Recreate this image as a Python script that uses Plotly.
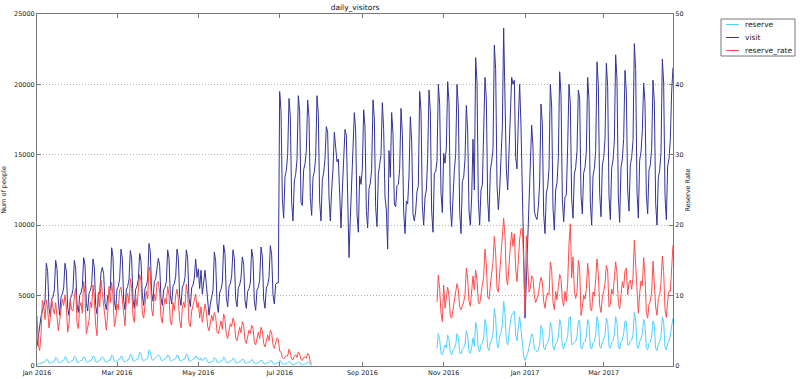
import pandas as pd
import plotly.graph_objects as go
from plotly.subplots import make_subplots

# daily visitors, rows of 7 days starting Fri 2016-01-01
visit_weeks = [
    [1400, 2200, 2900, 3500, 3900, 4200, 4600],
    [7300, 6700, 4100, 3500, 4750, 4900, 5400],
    [7500, 6900, 4600, 3600, 4900, 5100, 5550],
    [7300, 6750, 4150, 3600, 4800, 5000, 5450],
    [7500, 6950, 4350, 3800, 5000, 5200, 5650],
    [7700, 7150, 4450, 3900, 5150, 5350, 5800],
    [7600, 7000, 4300, 3700, 5000, 5200, 6600],
    [7000, 6550, 4450, 4000, 5000, 5150, 5500],
    [8400, 7750, 4650, 4000, 5450, 5650, 6200],
    [8300, 7650, 4650, 4000, 5400, 5650, 6150],
    [8200, 7600, 4700, 4100, 5450, 5650, 6150],
    [8000, 7450, 5000, 4300, 5500, 5700, 6150],
    [8700, 8100, 5200, 4600, 6000, 6200, 6900],
    [7650, 7150, 4800, 4300, 5400, 5600, 6000],
    [8250, 7650, 5000, 4400, 5650, 5850, 6350],
    [8300, 7700, 4900, 4300, 5600, 5800, 6300],
    [8250, 7650, 4800, 4200, 5550, 5750, 6250],
    [7600, 6300, 6900, 5500, 6800, 5100, 6000],
    [6800, 5800, 4300, 3600, 4400, 4800, 5400],
    [8100, 7450, 4450, 3800, 5200, 5450, 5950],
    [8600, 7950, 4850, 4200, 5650, 5850, 6400],
    [8250, 7650, 4800, 4200, 5550, 5750, 6250],
    [7750, 7200, 4650, 4100, 5300, 5500, 5900],
    [8300, 7650, 4600, 3950, 5400, 5600, 6100],
    [8450, 7800, 4750, 4100, 5550, 5750, 6300],
    [8550, 7900, 5050, 4400, 5800, 5900, 5900],
    [19500, 18150, 11850, 10500, 13450, 13900, 15000],
    [19000, 17700, 11600, 10300, 13150, 13600, 14650],
    [19200, 18050, 11600, 11400, 13950, 14350, 15300],
    [18900, 17650, 11950, 10700, 13400, 13800, 14800],
    [19200, 17850, 11650, 10300, 13250, 13700, 14750],
    [17000, 16600, 12000, 10300, 12500, 14000, 16600],
    [15500, 14500, 14700, 11500, 9800, 12500, 14500],
    [16800, 16400, 11500, 7700, 10500, 12900, 14500],
    [18000, 16700, 10800, 9500, 13500, 12900, 14000],
    [18200, 16950, 11050, 9800, 12600, 13000, 14000],
    [18900, 17550, 11250, 9900, 13600, 14300, 15000],
    [18700, 16800, 12000, 11100, 8300, 15300, 13400],
    [18000, 16500, 11500, 11300, 12800, 12900, 14000],
    [18300, 16500, 11000, 9400, 11700, 11500, 13500],
    [17700, 16000, 10800, 10300, 11000, 12400, 12800],
    [19500, 18100, 11400, 10000, 12000, 12500, 14750],
    [19600, 18100, 11000, 9500, 13700, 13800, 14550],
    [20000, 18600, 12300, 10900, 15100, 14400, 15500],
    [20200, 18700, 11400, 9900, 12000, 13900, 15000],
    [20000, 18400, 11000, 9400, 13100, 13400, 14700],
    [18500, 16700, 11000, 10000, 12000, 16100, 12500],
    [21900, 20100, 11800, 10000, 12500, 12850, 15900],
    [20500, 18950, 11800, 10250, 13900, 14500, 15400],
    [22800, 21050, 12850, 11100, 12500, 15100, 17000],
    [24000, 19000, 14000, 12500, 15500, 18500, 20500],
    [20000, 20300, 14800, 14000, 17500, 20000, 17000],
    [12500, 7000, 3400, 6000, 9000, 12000, 14500],
    [17100, 15500, 11000, 10600, 10400, 11300, 13000],
    [18600, 17200, 10800, 9400, 12300, 12700, 14000],
    [20000, 18400, 11200, 9650, 12500, 13000, 14800],
    [20900, 19300, 11850, 10250, 12000, 12150, 15600],
    [20000, 18600, 11900, 10500, 13600, 14100, 15300],
    [19600, 19000, 12100, 10800, 13700, 14100, 15200],
    [20500, 18900, 11600, 10000, 13500, 14000, 15300],
    [21600, 19950, 12250, 10600, 14250, 14800, 16100],
    [21500, 19850, 12050, 10400, 14050, 14600, 15950],
    [22100, 20300, 12000, 10200, 14100, 14700, 16150],
    [21000, 19500, 12500, 11000, 14300, 14800, 16000],
    [22900, 21050, 12350, 10500, 14600, 15200, 16700],
    [20100, 18700, 12200, 10800, 13900, 14300, 15450],
    [20300, 18750, 11550, 10000, 13400, 13900, 15150],
    [21800, 20100, 12100, 10400, 14200, 14700, 16100],
    [19500, 21200],
]

# reservations, 2016-01-01 .. 2016-07-25
reserve_h1_weeks = [
    [70, 150, 160, 200, 230, 250, 300],
    [480, 430, 220, 200, 260, 280, 330],
    [600, 540, 260, 220, 300, 320, 380],
    [650, 590, 270, 230, 310, 330, 400],
    [690, 620, 290, 250, 330, 350, 420],
    [650, 590, 300, 260, 340, 360, 420],
    [700, 630, 300, 260, 340, 360, 560],
    [620, 560, 310, 280, 350, 370, 430],
    [780, 700, 350, 300, 390, 410, 480],
    [700, 640, 340, 300, 380, 400, 470],
    [850, 770, 370, 320, 420, 450, 530],
    [970, 880, 420, 350, 450, 480, 560],
    [1140, 1030, 480, 400, 520, 560, 700],
    [800, 730, 430, 380, 460, 490, 560],
    [780, 710, 400, 350, 430, 460, 530],
    [780, 710, 380, 330, 410, 440, 520],
    [850, 770, 370, 320, 400, 430, 510],
    [720, 560, 600, 420, 560, 380, 450],
    [600, 480, 280, 220, 280, 310, 360],
    [600, 540, 270, 230, 300, 320, 380],
    [620, 560, 260, 220, 290, 310, 370],
    [550, 500, 240, 200, 260, 280, 340],
    [500, 450, 220, 180, 240, 260, 310],
    [450, 410, 190, 160, 210, 230, 280],
    [420, 380, 170, 140, 190, 210, 260],
    [400, 360, 160, 130, 180, 200, 240],
    [380, 340, 140, 110, 160, 170, 220],
    [330, 300, 120, 90, 130, 150, 190],
    [300, 270, 100, 80, 120, 130, 170],
    [280, 250, 80, 40],
]

# reservations, 2016-10-27 .. 2017-04-22
reserve_h2_weeks = [
    [1250],
    [2300, 1900, 900, 800, 1200, 1500, 1300],
    [2200, 1900, 950, 800, 1150, 1250, 1500],
    [2300, 2000, 1000, 850, 1200, 1300, 1550],
    [2500, 2150, 1050, 900, 1300, 2000, 1400],
    [3100, 2600, 1200, 1000, 1500, 1650, 2000],
    [3300, 2800, 1300, 1100, 1700, 1850, 2300],
    [4100, 3400, 1550, 1300, 2100, 2400, 2900],
    [4600, 3700, 1800, 1500, 2500, 3100, 3600],
    [3800, 3900, 2200, 1800, 2800, 3500, 2600],
    [1600, 700, 380, 600, 900, 1300, 1700],
    [2300, 2100, 1200, 1100, 1000, 1150, 1500],
    [2900, 2600, 1300, 1150, 1550, 1650, 1950],
    [3100, 2800, 1350, 1150, 1600, 1700, 2050],
    [3300, 2950, 1400, 1200, 1650, 1750, 2150],
    [3400, 3500, 1500, 1600, 1700, 1750, 2100],
    [3200, 3250, 1250, 1250, 1650, 1750, 2100],
    [3300, 2950, 1350, 1200, 1650, 1750, 2150],
    [3500, 3100, 1400, 1250, 1700, 1850, 2250],
    [3400, 3100, 1400, 1250, 1700, 1800, 2250],
    [3500, 3100, 1350, 1200, 1700, 1850, 2300],
    [3200, 3150, 1500, 1500, 1800, 1850, 2250],
    [3800, 3250, 1400, 1250, 1750, 1950, 2300],
    [3300, 2900, 1300, 1150, 1600, 1700, 2100],
    [3200, 2850, 1250, 1100, 1550, 1700, 2100],
    [3500, 3100, 1300, 1150, 1600, 1750, 2200],
    [3000, 3400],
]

# reserve rate (%), same two periods
rate_h1_weeks = [
    [7.1, 3.0, 2.2, 4.5, 9.3, 8.7, 6.6],
    [9.4, 8.0, 5.4, 6.9, 9.6, 8.2, 7.4],
    [9.0, 7.2, 5.0, 6.5, 8.1, 9.5, 8.6],
    [10.1, 8.4, 4.8, 6.0, 9.2, 8.0, 7.8],
    [9.8, 11.0, 6.1, 5.3, 8.4, 9.0, 7.5],
    [12.0, 10.2, 4.6, 5.5, 6.4, 9.1, 8.3],
    [11.5, 9.6, 5.8, 4.3, 10.5, 8.4, 12.2],
    [10.4, 8.6, 6.5, 5.1, 7.3, 11.3, 9.0],
    [11.9, 10.0, 5.6, 6.4, 8.8, 8.0, 10.8],
    [11.2, 9.3, 6.8, 5.7, 9.4, 10.3, 8.9],
    [12.4, 11.0, 7.0, 6.2, 9.9, 8.5, 10.7],
    [13.0, 12.1, 7.5, 6.8, 8.9, 10.6, 9.5],
    [14.1, 13.2, 8.0, 7.1, 10.2, 9.3, 11.8],
    [12.0, 10.5, 6.9, 6.1, 8.4, 9.6, 8.8],
    [11.3, 10.1, 6.3, 5.8, 9.0, 7.9, 10.0],
    [10.9, 9.4, 6.5, 5.4, 8.2, 9.1, 8.3],
    [11.6, 10.2, 6.0, 5.6, 7.8, 8.6, 9.4],
    [10.2, 8.3, 9.0, 6.8, 8.4, 6.2, 7.4],
    [8.8, 7.7, 5.6, 5.0, 6.3, 7.2, 6.4],
    [7.6, 7.0, 4.8, 4.6, 5.7, 6.4, 5.2],
    [7.4, 6.6, 4.5, 3.9, 5.2, 6.0, 5.6],
    [6.8, 6.2, 4.0, 3.6, 4.9, 5.5, 4.7],
    [6.3, 5.8, 3.7, 3.2, 4.4, 5.1, 4.6],
    [5.8, 5.3, 3.4, 3.0, 4.1, 4.8, 3.9],
    [5.5, 5.0, 3.2, 2.7, 3.8, 4.4, 3.6],
    [5.1, 4.7, 3.0, 2.5, 3.3, 4.0, 3.8],
    [2.1, 2.0, 1.2, 1.0, 1.3, 1.5, 1.4],
    [2.4, 1.9, 1.0, 0.9, 1.4, 1.6, 1.2],
    [2.0, 1.7, 0.9, 0.8, 1.2, 1.3, 1.1],
    [1.8, 1.5, 0.6, 0.3],
]

rate_h2_weeks = [
    [9.1],
    [12.9, 11.0, 7.5, 6.3, 11.5, 8.2, 9.5],
    [11.2, 10.0, 7.0, 6.8, 8.0, 9.3, 10.4],
    [11.7, 10.8, 8.4, 8.0, 8.6, 9.1, 10.1],
    [13.9, 12.5, 9.2, 8.5, 10.3, 12.8, 10.8],
    [13.6, 12.2, 9.0, 8.8, 10.4, 11.5, 12.6],
    [16.6, 14.5, 9.8, 9.5, 12.0, 13.2, 14.8],
    [18.4, 16.0, 11.0, 10.5, 13.5, 15.2, 17.9],
    [21.0, 18.5, 12.5, 11.5, 14.8, 17.0, 19.0],
    [17.0, 18.8, 13.8, 12.0, 15.5, 18.0, 19.5],
    [19.5, 15.0, 7.5, 18.5, 13.0, 10.5, 11.0],
    [12.8, 12.5, 10.0, 9.0, 9.5, 10.2, 11.5],
    [12.6, 11.9, 9.2, 8.2, 9.8, 10.4, 10.1],
    [14.8, 13.7, 9.0, 8.0, 10.6, 9.4, 11.3],
    [13.0, 12.4, 9.4, 8.5, 10.6, 9.2, 11.8],
    [17.4, 20.2, 12.5, 15.5, 10.8, 9.6, 10.5],
    [15.0, 13.8, 7.2, 8.3, 10.1, 9.5, 11.0],
    [14.6, 12.5, 8.2, 7.8, 10.5, 9.9, 12.3],
    [15.2, 13.0, 8.6, 7.6, 9.8, 10.6, 11.7],
    [14.3, 13.5, 8.4, 8.8, 10.9, 10.2, 12.5],
    [14.8, 13.1, 9.0, 8.1, 10.5, 12.0, 11.1],
    [13.6, 13.9, 10.1, 11.8, 12.2, 10.9, 12.6],
    [17.9, 14.2, 9.5, 7.5, 10.3, 12.1, 11.4],
    [15.4, 12.8, 7.6, 6.8, 8.8, 9.2, 10.5],
    [14.9, 12.0, 8.4, 7.2, 9.6, 10.0, 11.9],
    [15.6, 13.4, 8.0, 6.9, 9.3, 10.7, 10.6],
    [13.2, 17.2],
]

start_date = "2016-01-01"
gap_start = "2016-07-26"
gap_end = "2016-10-26"
left_ticks = [0, 5000, 10000, 15000, 20000, 25000]
right_ticks = [0, 10, 20, 30, 40, 50]
series_names = ["reserve", "visit", "reserve_rate"]
series_colors = ["#4dd2ff", "#333399", "#ff4d4d"]


def flat(rows):
    return [v for r in rows for v in r]


visit = flat(visit_weeks)
dates = pd.date_range(start_date, periods=len(visit), freq="D")
n_gap = len(pd.date_range(gap_start, gap_end, freq="D"))
reserve = flat(reserve_h1_weeks) + [None] * n_gap + flat(reserve_h2_weeks)
rate = flat(rate_h1_weeks) + [None] * n_gap + flat(rate_h2_weeks)

FONT = "DejaVu Sans"
W, H = 800, 380
L, R, T, B = 37, 673, 14, 366  # plot area in pixels

fig = make_subplots(specs=[[{"secondary_y": True}]])
fig.add_trace(go.Scatter(x=dates, y=reserve, name=series_names[0], mode="lines",
                         line=dict(color=series_colors[0], width=1), connectgaps=False),
              secondary_y=False)
fig.add_trace(go.Scatter(x=dates, y=visit, name=series_names[1], mode="lines",
                         line=dict(color=series_colors[1], width=1)),
              secondary_y=False)
fig.add_trace(go.Scatter(x=dates, y=rate, name=series_names[2], mode="lines",
                         line=dict(color=series_colors[2], width=1), connectgaps=False),
              secondary_y=True)


def px_x(px):
    return (px - L) / (R - L)


def px_y(py):
    return (B - py) / (B - T)


# legend drawn by hand (matplotlib-like compact box)
shapes = [dict(type="rect", xref="paper", yref="paper",
               x0=px_x(721), x1=px_x(795), y0=px_y(56), y1=px_y(19),
               line=dict(color="#777", width=1), fillcolor="white", layer="above")]
annotations = []
for i, (nm, col) in enumerate(zip(series_names, series_colors)):
    yy = 24.5 + i * 13
    shapes.append(dict(type="line", xref="paper", yref="paper",
                       x0=px_x(726), x1=px_x(739), y0=px_y(yy), y1=px_y(yy),
                       line=dict(color=col, width=1)))
    annotations.append(dict(text=nm, xref="paper", yref="paper",
                            x=px_x(743), y=px_y(yy), xanchor="left", yanchor="middle",
                            showarrow=False, font=dict(family=FONT, size=7.5, color="#222")))

fig.update_layout(
    width=W, height=H,
    margin=dict(l=L, r=W - R, t=T, b=H - B, autoexpand=False, pad=0),
    paper_bgcolor="white", plot_bgcolor="white",
    font=dict(family=FONT, size=6.5, color="#222"),
    title=dict(text="daily_visitors", x=(L + R) / 2 / W, xanchor="center",
               y=1 - 7 / H, yanchor="middle", yref="container",
               font=dict(family=FONT, size=7.5, color="#111")),
    showlegend=False,
    shapes=shapes,
    annotations=annotations,
)
fig.update_xaxes(
    type="date", range=[dates[0], dates[-1]], domain=[0, 1],
    tick0=start_date, dtick="M2", tickformat="%b %Y",
    showgrid=False, showline=True, linecolor="#777", linewidth=1,
    mirror="ticks", ticks="inside", ticklen=4, tickcolor="#777",
    tickfont=dict(size=6.5), zeroline=False, automargin=False,
)
fig.update_yaxes(
    range=[0, 25000], tickvals=left_ticks, ticktext=[str(v) for v in left_ticks],
    showgrid=True, gridcolor="#b4b4b4", griddash="1px,2px", gridwidth=1,
    showline=True, linecolor="#777", linewidth=1,
    ticks="inside", ticklen=4, tickcolor="#777", zeroline=False,
    title=dict(text="Num of people", font=dict(size=6.5), standoff=8),
    tickfont=dict(size=6.5), automargin=False,
    secondary_y=False,
)
fig.update_yaxes(
    range=[0, 50], tickvals=right_ticks, ticktext=[str(v) for v in right_ticks],
    showgrid=False, showline=True, linecolor="#777", linewidth=1,
    ticks="inside", ticklen=4, tickcolor="#777", zeroline=False,
    title=dict(text="Reserve Rate", font=dict(size=6.5), standoff=2),
    tickfont=dict(size=6.5), automargin=False,
    secondary_y=True,
)

fig.write_html("out.html", config={"displayModeBar": False},
               post_script="document.body.style.margin='0';document.body.style.padding='0';")
